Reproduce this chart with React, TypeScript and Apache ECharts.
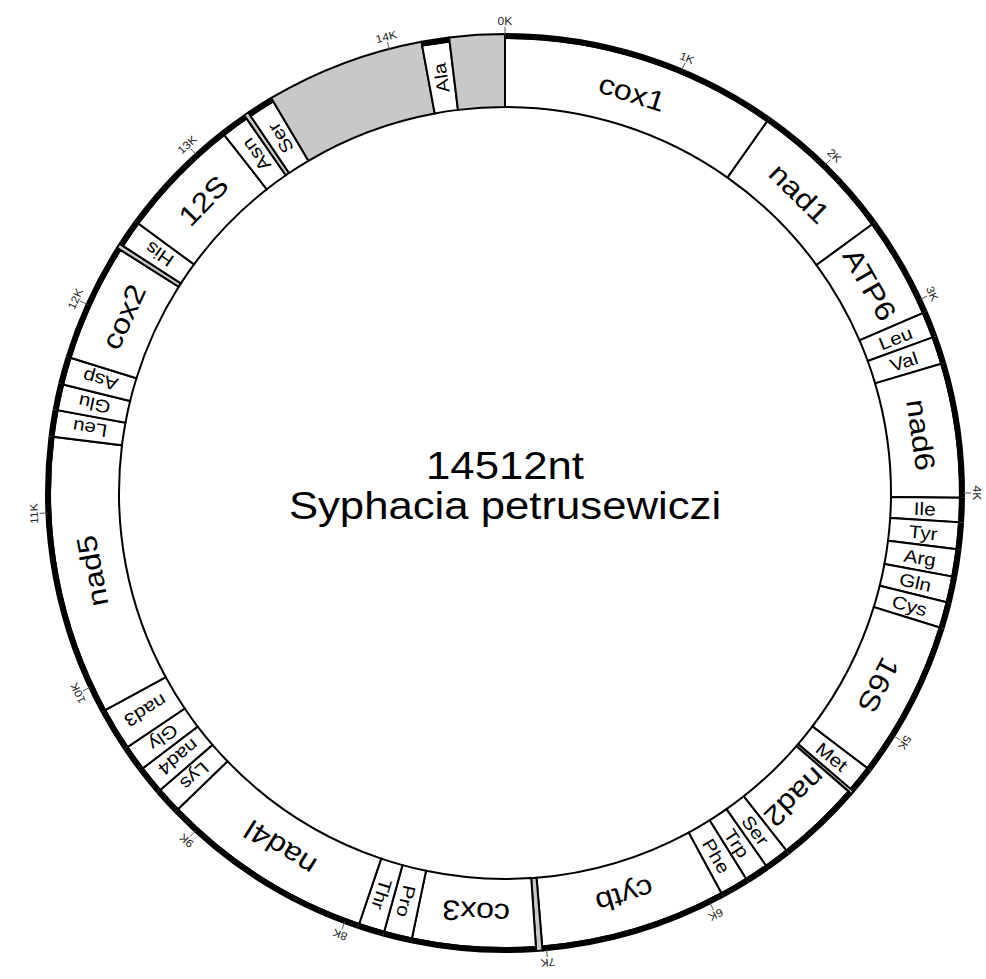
import React, { useEffect, useRef } from 'react';
import * as echarts from 'echarts';

// ---- data ----
const GENOME_LENGTH = 14512;
const TITLE_LENGTH = '14512nt';
const TITLE_SPECIES = 'Syphacia petrusewiczi';

const featureNames = [
  'cox1', 'nad1', 'ATP6', 'Leu', 'Val', 'nad6', 'Ile', 'Tyr', 'Arg', 'Gln', 'Cys', '16S', 'Met', '',
  'nad2', 'Ser', 'Trp', 'Phe', 'cytb', '', 'cox3', 'Pro', 'Thr', 'nad4l', 'Lys', 'nad4', 'Gly', 'nad3',
  'nad5', 'Leu', 'Glu', 'Asp', 'cox2', '', 'His', '12S', 'Asn', '', 'Ser', '', 'Ala', '',
];
const featureStarts = [
  0, 1419, 2169, 2689, 2822, 2963, 3652, 3777, 3914, 4055, 4188, 4321, 5128, 5264,
  5280, 5716, 5845, 5966, 6111, 7067, 7099, 7732, 7877, 8010, 9109, 9242, 9383, 9516,
  9735, 11170, 11307, 11440, 11581, 12186, 12210, 12348, 12976, 13117, 13141, 13278, 14089, 14230,
];
const featureEnds = [
  1419, 2169, 2689, 2822, 2963, 3652, 3777, 3914, 4055, 4188, 4321, 5128, 5264, 5280,
  5716, 5845, 5966, 6111, 7067, 7099, 7732, 7877, 8010, 9109, 9242, 9383, 9516, 9735,
  11170, 11307, 11440, 11581, 12186, 12210, 12348, 12976, 13117, 13141, 13278, 14089, 14230, 14512,
];
// 'cds' protein gene, 'rrna', 'trna', 'nc' non-coding
const featureKinds = [
  'cds', 'cds', 'cds', 'trna', 'trna', 'cds', 'trna', 'trna', 'trna', 'trna', 'trna', 'rrna', 'trna', 'nc',
  'cds', 'trna', 'trna', 'trna', 'cds', 'nc', 'cds', 'trna', 'trna', 'cds', 'trna', 'cds', 'trna', 'cds',
  'cds', 'trna', 'trna', 'trna', 'cds', 'nc', 'trna', 'rrna', 'trna', 'nc', 'trna', 'nc', 'trna', 'nc',
];

const tickPositions = [0, 915, 1786, 2620, 3628, 4918, 6185, 7046, 8082, 8969, 9872, 10783, 11864, 12803, 13923];
const tickLabels = ['0K', '1K', '2K', '3K', '4K', '5K', '6K', '7K', '8K', '9K', '10K', '11K', '12K', '13K', '14K'];

// ---- layout ----
const CX = 505;
const CY = 493;
const R_IN = 386;
const R_BOX = 455;
const R_OUT = 460;
const R_LABEL = 420;
const GRAY = '#c8c8c8';
const FONT = '"Liberation Sans", Arial, Helvetica, sans-serif';
const STRETCH = 1.15;

export default function App() {
  const ref = useRef<HTMLDivElement>(null);

  useEffect(() => {
    if (!ref.current) return;
    const chart = echarts.init(ref.current, null, { renderer: 'svg' });

    const screenAngle = (p: number[]) => Math.atan2(p[1] - CY, p[0] - CX);
    const clockAngle = (p: number[]) => Math.atan2(p[0] - CX, CY - p[1]);

    const featureSeries = {
      type: 'custom',
      coordinateSystem: 'polar',
      data: featureNames.map((_, i) => [featureStarts[i], featureEnds[i], i]),
      renderItem: (params: any, api: any) => {
        const s = api.value(0);
        const e = api.value(1);
        const i = api.value(2);
        const kind = featureKinds[i];
        const name = featureNames[i];
        const pa = api.coord([R_LABEL, s]);
        const pb = api.coord([R_LABEL, e]);
        const a1 = screenAngle(pa);
        let a2 = screenAngle(pb);
        if (a2 <= a1) a2 += Math.PI * 2;
        const nc = kind === 'nc';
        const children: any[] = [];
        children.push({
          type: 'sector',
          shape: { cx: CX, cy: CY, r0: R_IN, r: nc ? R_OUT - 1 : R_BOX, startAngle: a1, endAngle: a2, clockwise: true },
          style: { fill: nc ? GRAY : '#ffffff', stroke: '#000', lineWidth: 2 },
        });
        if (!nc) {
          children.push({
            type: 'sector',
            shape: { cx: CX, cy: CY, r0: R_BOX - 1, r: R_OUT, startAngle: a1, endAngle: a2, clockwise: true },
            style: { fill: '#000' },
          });
        }
        if (name) {
          const pm = api.coord([R_LABEL, (s + e) / 2]);
          const theta = clockAngle(pm);
          const widthDeg = ((e - s) / GENOME_LENGTH) * 360;
          const radial = widthDeg < 8;
          children.push({
            type: 'text',
            x: pm[0],
            y: pm[1],
            rotation: radial ? Math.PI / 2 - theta : -theta,
            scaleX: STRETCH,
            style: {
              text: name,
              fontSize: radial ? 18 : 28,
              fontFamily: FONT,
              fill: '#000',
              align: 'center',
              verticalAlign: 'middle',
            },
          });
        }
        return { type: 'group', children };
      },
    };

    const tickSeries = {
      type: 'custom',
      coordinateSystem: 'polar',
      data: tickPositions.map((p, i) => [p, i]),
      renderItem: (params: any, api: any) => {
        const p = api.value(0);
        const i = api.value(1);
        const p1 = api.coord([R_OUT - 2, p]);
        const p2 = api.coord([R_OUT + 6, p]);
        const pl = api.coord([R_OUT + 6, p]);
        const theta = clockAngle(pl);
        return {
          type: 'group',
          children: [
            {
              type: 'line',
              shape: { x1: p1[0], y1: p1[1], x2: p2[0], y2: p2[1] },
              style: { stroke: '#555', lineWidth: 1 },
            },
            {
              type: 'text',
              x: pl[0],
              y: pl[1],
              rotation: -theta,
              scaleX: 1.1,
              style: {
                text: tickLabels[i],
                fontSize: 11,
                fontFamily: FONT,
                fill: '#222',
                align: 'center',
                verticalAlign: 'bottom',
              },
            },
          ],
        };
      },
    };

    chart.setOption({
      animation: false,
      polar: { center: [CX, CY], radius: [0, R_OUT] },
      angleAxis: { type: 'value', min: 0, max: GENOME_LENGTH, startAngle: 90, clockwise: true, show: false },
      radiusAxis: { type: 'value', min: 0, max: R_OUT, show: false },
      graphic: [
        {
          type: 'text',
          x: CX,
          y: 466,
          scaleX: STRETCH,
          style: { text: TITLE_LENGTH, fontSize: 38, fontFamily: FONT, fill: '#000', align: 'center', verticalAlign: 'middle' },
        },
        {
          type: 'text',
          x: CX,
          y: 506,
          scaleX: STRETCH,
          style: { text: TITLE_SPECIES, fontSize: 38, fontFamily: FONT, fill: '#000', align: 'center', verticalAlign: 'middle' },
        },
      ],
      series: [featureSeries, tickSeries],
    });

    return () => chart.dispose();
  }, []);

  return <div ref={ref} style={{ position: 'absolute', left: 0, top: 0, width: 986, height: 979, background: '#fff' }} />;
}
